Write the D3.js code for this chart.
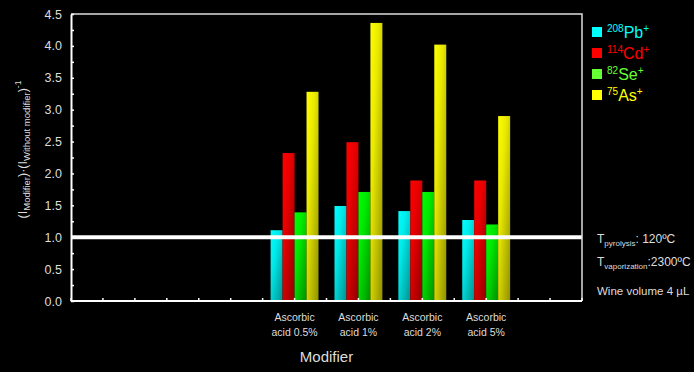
<!DOCTYPE html>
<html>
<head>
<meta charset="utf-8">
<script src="https://cdn.jsdelivr.net/npm/d3@7/dist/d3.min.js"></script>
<style>
  html, body { margin: 0; padding: 0; background: #000; }
  svg { display: block; font-family: "Liberation Sans", Arial, sans-serif; }
</style>
</head>
<body>
<svg id="chart" width="694" height="372"></svg>
<script>
// Categories on the x axis (empty slots keep the groups to the right)
const categories = ["", "", "", "Ascorbic|acid 0.5%", "Ascorbic|acid 1%", "Ascorbic|acid 2%", "Ascorbic|acid 5%", ""];
const groups = ["Ascorbic|acid 0.5%", "Ascorbic|acid 1%", "Ascorbic|acid 2%", "Ascorbic|acid 5%"];

// Signal ratio (with modifier / without modifier) per isotope
const pb208 = [1.11, 1.49, 1.41, 1.27];
const cd114 = [2.32, 2.49, 1.89, 1.89];
const se82  = [1.39, 1.71, 1.71, 1.20];
const as75  = [3.28, 4.36, 4.02, 2.90];

const seriesNames = [
  { mass: "208", el: "Pb" },
  { mass: "114", el: "Cd" },
  { mass: "82",  el: "Se" },
  { mass: "75",  el: "As" }
];
const seriesValues = [pb208, cd114, se82, as75];
const seriesColors = ["#00ffff", "#ff0000", "#00ff00", "#ffff00"];
const legendColors = ["#00ffff", "#ff0000", "#66ff33", "#ffff00"];

const yTickLabels = [0, 0.5, 1, 1.5, 2, 2.5, 3, 3.5, 4, 4.5];
const referenceLevel = 1.0;

const svg = d3.select("#chart");
const m = { left: 71, right: 582, top: 14, bottom: 301 };

const x = d3.scaleBand().domain(d3.range(categories.length)).range([m.left, m.right]).padding(0);
const y = d3.scaleLinear().domain([0, 4.5]).range([m.bottom, m.top]);
const xs = d3.scaleBand().domain(d3.range(seriesNames.length)).range([0, x.bandwidth() * 0.75]);

// Diagonal shading gradients for bars
const defs = svg.append("defs");
seriesColors.forEach((c, i) => {
  const g = defs.append("linearGradient").attr("id", "grad" + i)
    .attr("x1", 0).attr("y1", 0).attr("x2", 1).attr("y2", 1);
  const base = d3.rgb(c);
  g.append("stop").attr("offset", "0%").attr("stop-color", base.toString());
  g.append("stop").attr("offset", "35%").attr("stop-color", base.darker(0.25).toString());
  g.append("stop").attr("offset", "100%").attr("stop-color", base.darker(1.6).toString());
});

// Bars
const rows = [];
groups.forEach((gname, gi) => {
  seriesValues.forEach((vals, si) => {
    rows.push({ cat: categories.indexOf(gname), si, v: vals[gi] });
  });
});
svg.append("g").selectAll("rect").data(rows).join("rect")
  .attr("x", d => x(d.cat) + x.bandwidth() * 0.125 + xs(d.si))
  .attr("width", xs.bandwidth())
  .attr("y", d => y(d.v))
  .attr("height", d => y(0) - y(d.v))
  .attr("fill", d => `url(#grad${d.si})`);

// Reference line at ratio 1
svg.append("line")
  .attr("x1", m.left).attr("x2", m.right)
  .attr("y1", y(referenceLevel)).attr("y2", y(referenceLevel))
  .attr("stroke", "#fff").attr("stroke-width", 4);

// Frame
svg.append("path")
  .attr("d", `M${m.left},${m.top}H${m.right}V${m.bottom}`)
  .attr("fill", "none").attr("stroke", "#ddd").attr("stroke-width", 1.5);

// Y axis
const yAxis = d3.axisLeft(y).tickValues(d3.range(0, 4.51, 0.25)).tickSizeInner(-3).tickSizeOuter(0)
  .tickFormat(d => yTickLabels.includes(d) ? d3.format(".1f")(d) : "");
const ya = svg.append("g").attr("transform", `translate(${m.left},0)`).call(yAxis);
ya.select(".domain").attr("stroke", "#fff").attr("stroke-width", 2);
ya.selectAll(".tick line").attr("stroke", "#fff").attr("stroke-width", 1.5);
ya.selectAll(".tick text").attr("fill", "#ddd").attr("font-size", 12.5)
  .attr("font-family", "Liberation Sans, Arial, sans-serif").attr("x", -9);

// X axis: ticks at band edges and centres
const xTickPos = d3.range(0, categories.length * 2 + 1).map(k => m.left + k * x.bandwidth() / 2);
const xa = svg.append("g");
xa.append("line").attr("x1", m.left).attr("x2", m.right).attr("y1", m.bottom).attr("y2", m.bottom)
  .attr("stroke", "#fff").attr("stroke-width", 2);
xa.selectAll(".xt").data(xTickPos).join("line").attr("class", "xt")
  .attr("x1", d => d).attr("x2", d => d).attr("y1", m.bottom).attr("y2", m.bottom - 3)
  .attr("stroke", "#fff").attr("stroke-width", 1.5);

// Category labels
groups.forEach(gname => {
  const cx = x(categories.indexOf(gname)) + x.bandwidth() / 2;
  const lines = gname.split("|");
  lines.forEach((ln, li) => {
    svg.append("text").attr("x", cx).attr("y", 321 + li * 15)
      .attr("text-anchor", "middle").attr("fill", "#ddd").attr("font-size", 10.5).text(ln);
  });
});

// Axis titles
svg.append("text").attr("x", (m.left + m.right) / 2).attr("y", 362)
  .attr("text-anchor", "middle").attr("fill", "#ddd").attr("font-size", 15).text("Modifier");

const yl = svg.append("text")
  .attr("transform", `translate(27,${(m.top + m.bottom) / 2 - 8}) rotate(-90)`)
  .attr("text-anchor", "middle").attr("fill", "#ddd").attr("font-size", 12.5);
yl.append("tspan").text("(I");
yl.append("tspan").attr("font-size", 9.5).attr("dy", 3).text("Modifier");
yl.append("tspan").attr("dy", -3).text(")·(I");
yl.append("tspan").attr("font-size", 9.5).attr("dy", 3).text("Without modifier");
yl.append("tspan").attr("dy", -3).text(")");
yl.append("tspan").attr("font-size", 8.5).attr("dy", -6).text("-1");

// Legend
const lg = svg.append("g");
seriesNames.forEach((s, i) => {
  const cy = 32 + i * 21;
  lg.append("rect").attr("x", 592).attr("y", cy - 5).attr("width", 10).attr("height", 10)
    .attr("fill", legendColors[i]);
  const t = lg.append("text").attr("x", 607).attr("y", cy + 6)
    .attr("fill", legendColors[i]).attr("font-size", 16);
  t.append("tspan").attr("font-size", 10).attr("dy", -6).text(s.mass);
  t.append("tspan").attr("dy", 6).text(s.el);
  t.append("tspan").attr("font-size", 10).attr("dy", -6).text("+");
});

// Conditions
const notes = svg.append("g").attr("fill", "#ddd").attr("font-size", 12);
const n1 = notes.append("text").attr("x", 597).attr("y", 243);
n1.append("tspan").text("T");
n1.append("tspan").attr("font-size", 8).attr("dy", 3).text("pyrolysis");
n1.append("tspan").attr("dy", -3).text(": 120ºC");
const n2 = notes.append("text").attr("x", 597).attr("y", 266);
n2.append("tspan").text("T");
n2.append("tspan").attr("font-size", 8).attr("dy", 3).text("vaporization");
n2.append("tspan").attr("dy", -3).text(":2300ºC");
notes.append("text").attr("x", 597).attr("y", 295).attr("font-size", 11.5).text("Wine volume 4 µL");
</script>
</body>
</html>
